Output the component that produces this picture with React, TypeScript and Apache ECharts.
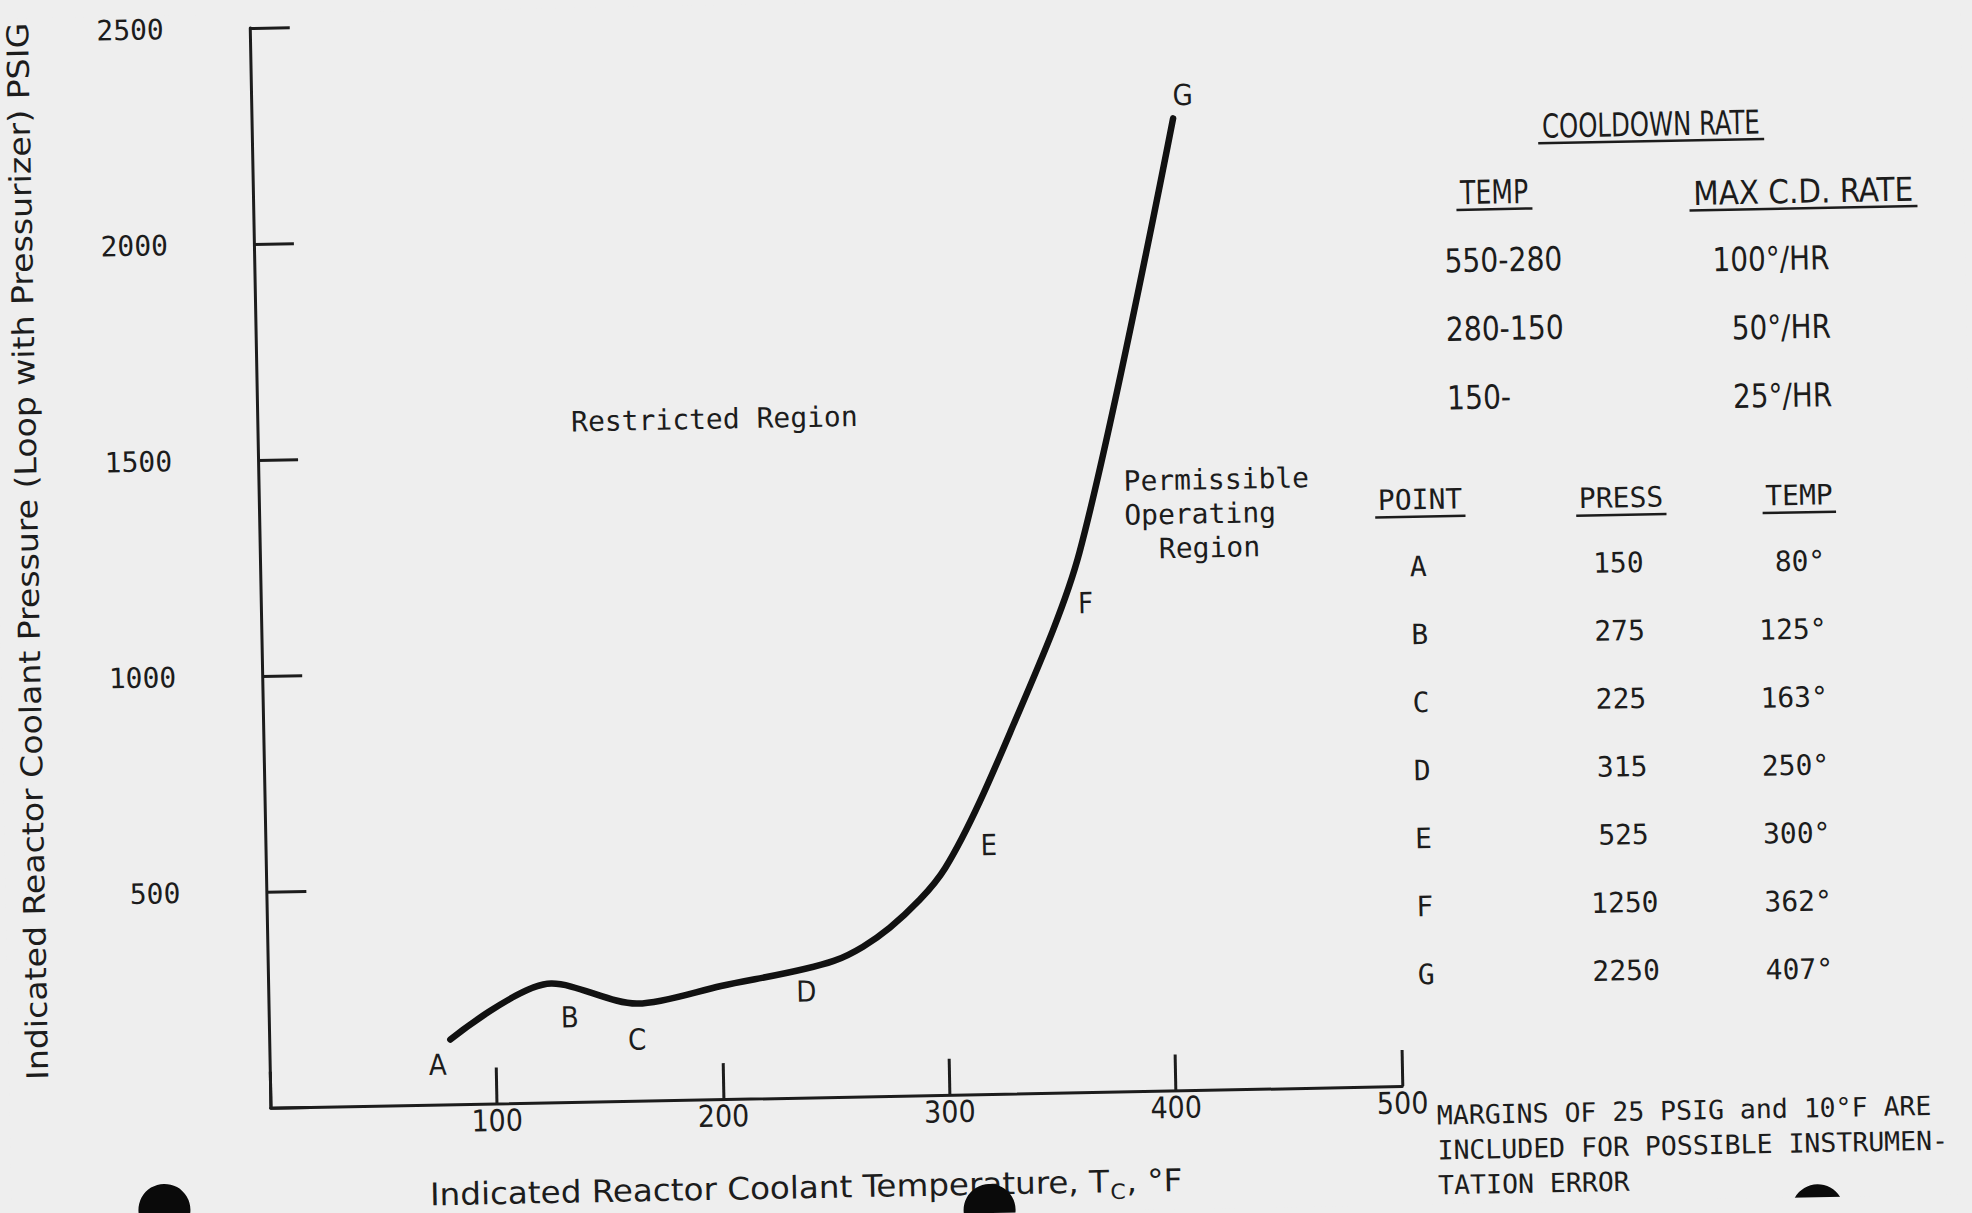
import React, { useEffect, useRef } from "react";
import * as echarts from "echarts";

// Lettered points of the cooldown limit curve
const pointNames = ["A", "B", "C", "D", "E", "F", "G"];
const pointPress = [150, 275, 225, 315, 525, 1250, 2250];
const pointTemp = [80, 125, 163, 250, 300, 362, 407];

// Extra points traced along the curve between the lettered points
const traceTemp = [200, 275, 330];
const tracePress = [262, 389, 838];

// Axes
const tempMin = 0;
const tempMax = 500;
const tempStep = 100;
const pressMin = 0;
const pressMax = 2500;
const pressStep = 500;

// Cooldown rate table
const cooldownTemp = ["550-280", "280-150", "150-"];
const cooldownRate = ["100°/HR", "50°/HR", "25°/HR"];

const noteLines = [
  "MARGINS OF 25 PSIG and 10°F ARE",
  "INCLUDED FOR POSSIBLE INSTRUMEN-",
  "TATION ERROR",
];

// Offsets of the letter tags from their points
const labelOffsets = [
  [-13, 25],
  [18, 34],
  [-1, 36],
  [-28, 30],
  [44, -22],
  [5, 51],
  [10, -23],
];

// Run lengths of the cooldown table texts (typed in a narrow face)
const cdHeadWidths = { "COOLDOWN RATE": 218, TEMP: 68, "MAX C.D. RATE": 220 };
const cdTempWidths = [118, 118, 64];
const cdRateWidths = [117, 99, 99];

const MONO = "'DejaVu Sans Mono', monospace";
const SANS = "'Liberation Sans Narrow', 'DejaVu Sans Condensed', 'Noto Sans', sans-serif";
const INK = "#1c1c1c";
const PAPER = "#eeeeee";

const measureCtx = document.createElement("canvas").getContext("2d")!;
function textWidth(text: string, size: number, family: string) {
  measureCtx.font = `${size}px ${family}`;
  return measureCtx.measureText(text).width;
}

function txt(
  text: string,
  x: number,
  y: number,
  size: number,
  family: string,
  align: string = "left",
  extra: any = {},
  styleExtra: any = {}
) {
  return {
    type: "text",
    x,
    y,
    silent: true,
    ...extra,
    style: {
      text,
      fill: INK,
      fontSize: size,
      fontFamily: family,
      align,
      textAlign: align,
      verticalAlign: "middle",
      textVerticalAlign: "middle",
      ...styleExtra,
    },
  };
}

function underline(cx: number, y: number, w: number) {
  return {
    type: "line",
    silent: true,
    shape: { x1: cx - w / 2, y1: y, x2: cx + w / 2, y2: y },
    style: { stroke: INK, lineWidth: 2.5 },
  };
}

// narrow text: fixed letter height, squeezed or stretched to a run length
function narrow(s: string, x: number, y: number, size: number, width: number, align: string) {
  const k = width / textWidth(s, size, SANS);
  return txt(s, x, y, size, SANS, align, { scaleX: k });
}

export default function App() {
  const ref = useRef<HTMLDivElement>(null);

  useEffect(() => {
    if (!ref.current) return;
    const chart = echarts.init(ref.current, undefined, { renderer: "svg" });

    const curve = pointTemp
      .map((t, i) => [t, pointPress[i]])
      .concat(traceTemp.map((t, i) => [t, tracePress[i]]))
      .sort((a, b) => a[0] - b[0]);

    const elements: any[] = [];

    // Axis names
    const yName = "Indicated Reactor Coolant Pressure (Loop with Pressurizer) PSIG";
    const ySize = 30;
    const yStretch = 1058 / textWidth(yName, ySize, SANS);
    elements.push(
      txt(yName, 29, 533, ySize, SANS, "center", {
        rotation: Math.PI / 2,
        scaleX: yStretch,
      })
    );

    const xn1 = "Indicated Reactor Coolant Temperature, T";
    const xn2 = "C";
    const xn3 = ", °F";
    const xSize = 31;
    const subSize = 21;
    const xStretch = 735 / textWidth(xn1 + xn3, xSize, SANS);
    const w1 = textWidth(xn1, xSize, SANS) * xStretch;
    const w2 = textWidth(xn2, subSize, SANS) * xStretch;
    const w3 = textWidth(xn3, xSize, SANS) * xStretch;
    const xs = 794 - (w1 + w2 + w3) / 2;
    elements.push(txt(xn1, xs, 1184, xSize, SANS, "left", { scaleX: xStretch }));
    elements.push(txt(xn2, xs + w1 + 1, 1194, subSize, SANS, "left", { scaleX: xStretch }));
    elements.push(txt(xn3, xs + w1 + w2 + 2, 1184, xSize, SANS, "left", { scaleX: xStretch }));

    // Region names
    elements.push(txt("Restricted Region", 718, 414, 28, MONO, "center"));
    elements.push(txt("Permissible", 1126, 484, 28, MONO));
    elements.push(txt("Operating", 1126, 518, 28, MONO));
    elements.push(txt("Region", 1160, 552, 28, MONO));

    // Cooldown rate table
    const cdSize = 33;
    const cdHead = (s: string, cx: number, cy: number) => [
      narrow(s, cx, cy, cdSize, cdHeadWidths[s], "center"),
      underline(cx, cy + 17, cdHeadWidths[s] + 8),
    ];
    elements.push(...cdHead("COOLDOWN RATE", 1660, 137));
    elements.push(...cdHead("TEMP", 1502, 202));
    elements.push(...cdHead("MAX C.D. RATE", 1811, 207));
    cooldownTemp.forEach((t, i) => {
      elements.push(narrow(t, 1451, 270 + i * 68.5, cdSize, cdTempWidths[i], "left"));
      elements.push(
        narrow(cooldownRate[i], 1836, 274 + i * 68.5, cdSize, cdRateWidths[i], "right")
      );
    });

    // Point table
    const monoHead = (s: string, cx: number, cy: number) => [
      txt(s, cx, cy, 28, MONO, "center"),
      underline(cx, cy + 17, textWidth(s, 28, MONO) + 6),
    ];
    elements.push(...monoHead("POINT", 1422, 508));
    elements.push(...monoHead("PRESS", 1623, 510));
    elements.push(...monoHead("TEMP", 1801, 511));
    pointNames.forEach((n, i) => {
      const y = 575 + i * 68;
      elements.push(txt(n, 1419, y, 28, MONO, "center"));
      elements.push(txt(String(pointPress[i]), 1619, y, 28, MONO, "center"));
      elements.push(txt(pointTemp[i] + "°", 1826, y + 2, 28, MONO, "right"));
    });

    // Footnote
    elements.push(
      txt(noteLines.join("\n"), 1427, 1106, 26.5, MONO, "left", {}, {
        verticalAlign: "top",
        textVerticalAlign: "top",
        lineHeight: 35,
      })
    );

    // Binder holes
    [
      [153, 1194],
      [978, 1210],
      [1806, 1226],
    ].forEach(([cx, cy]) => {
      elements.push({
        type: "circle",
        silent: true,
        shape: { cx, cy, r: 26 },
        style: { fill: "#0a0a0a" },
      });
    });

    chart.setOption({
      animation: false,
      backgroundColor: PAPER,
      grid: { left: 261, top: -3, width: 1132, height: 1097 },
      xAxis: {
        type: "value",
        min: tempMin,
        max: tempMax,
        interval: tempStep,
        axisLine: { show: true, lineStyle: { color: INK, width: 3 } },
        axisTick: { show: true, inside: true, length: 36, lineStyle: { color: INK, width: 3 } },
        splitLine: { show: false },
        axisLabel: {
          margin: 2,
          color: INK,
          fontSize: 30,
          fontFamily: SANS,
          formatter: (v: number) => (v === 0 ? "" : String(v)),
        },
      },
      yAxis: {
        type: "value",
        min: pressMin,
        max: pressMax,
        interval: pressStep,
        axisLine: { show: true, lineStyle: { color: INK, width: 3 } },
        axisTick: { show: true, inside: true, length: 40, lineStyle: { color: INK, width: 3 } },
        splitLine: { show: false },
        axisLabel: {
          margin: 86,
          color: INK,
          fontSize: 28,
          fontFamily: MONO,
          formatter: (v: number) => (v === 0 ? "" : String(v)),
        },
      },
      series: [
        {
          type: "line",
          data: curve,
          smooth: 0.3,
          showSymbol: false,
          symbol: "none",
          silent: true,
          lineStyle: { color: "#111111", width: 6.5, cap: "round" },
          z: 3,
        },
        {
          type: "scatter",
          symbolSize: 1,
          silent: true,
          itemStyle: { opacity: 0 },
          label: {
            show: true,
            position: "inside",
            formatter: "{b}",
            color: INK,
            opacity: 1,
            textBorderWidth: 0,
            fontSize: 29,
            fontFamily: SANS,
          },
          data: pointNames.map((n, i) => ({
            name: n,
            value: [pointTemp[i], pointPress[i]],
            label: { offset: labelOffsets[i] },
          })),
          z: 4,
        },
      ],
      graphic: { elements },
    });

    return () => chart.dispose();
  }, []);

  return (
    <div
      style={{
        position: "fixed",
        left: 0,
        top: 0,
        width: 1972,
        height: 1213,
        background: PAPER,
        overflow: "hidden",
      }}
    >
      <div
        ref={ref}
        style={{
          width: 1972,
          height: 1213,
          transform: "rotate(-1.1deg)",
          transformOrigin: "50% 50%",
        }}
      />
    </div>
  );
}
